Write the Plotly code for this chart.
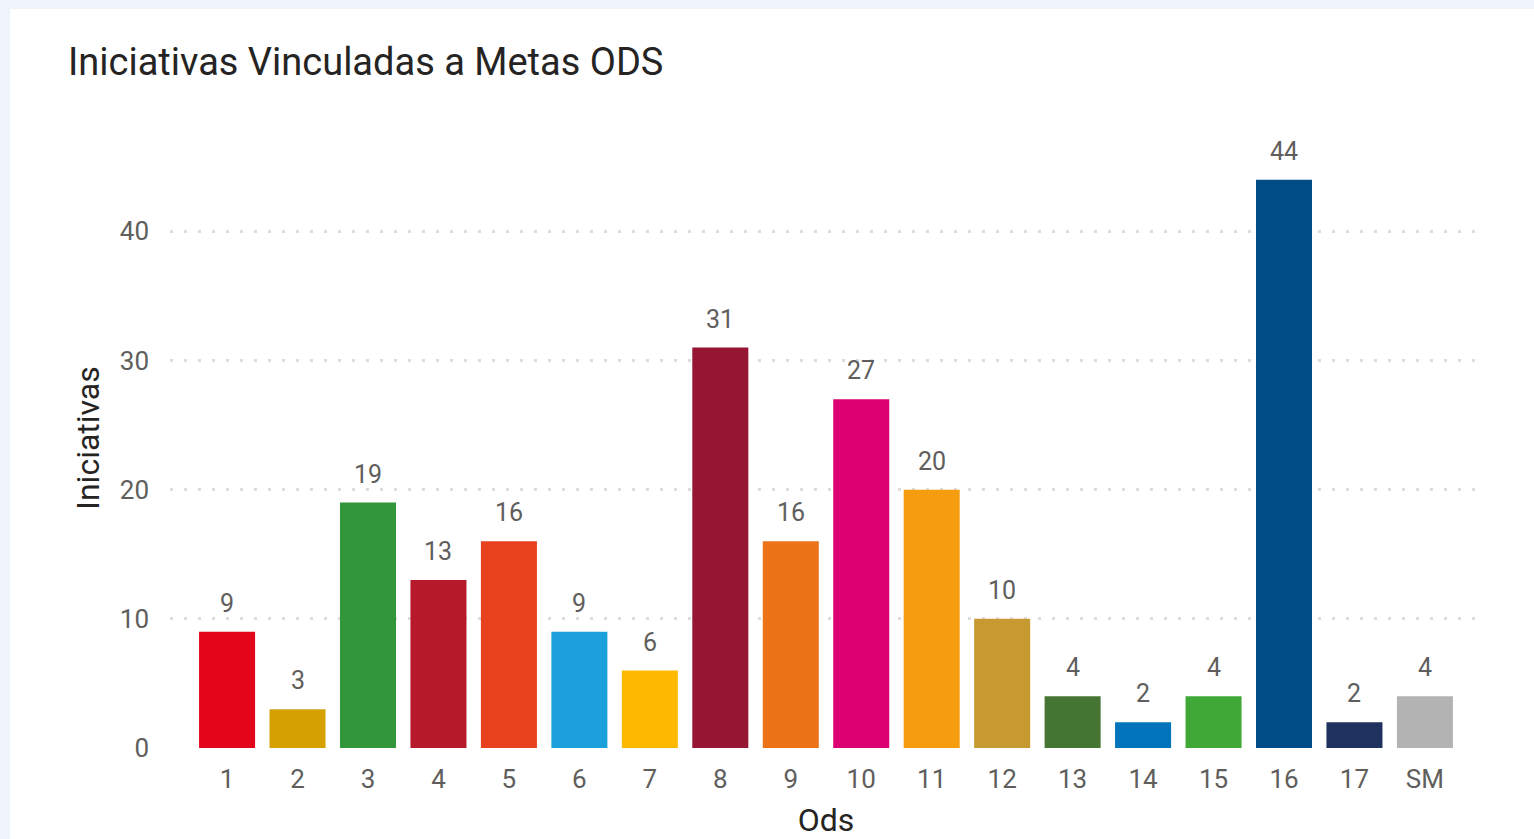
import plotly.graph_objects as go

categories = ["1", "2", "3", "4", "5", "6", "7", "8", "9", "10", "11", "12", "13", "14", "15", "16", "17", "SM"]
values = [9, 3, 19, 13, 16, 9, 6, 31, 16, 27, 20, 10, 4, 2, 4, 44, 2, 4]
colors = ["#E3061B", "#D4A100", "#32963A", "#B5192A", "#E7411E", "#1BA0DB", "#FDB900",
          "#951532", "#EC7318", "#DC0073", "#F59C0F", "#C69A30", "#457532", "#0174BB",
          "#3FA836", "#004C86", "#1E315F", "#B3B3B3"]
y_ticks = [0, 10, 20, 30, 40]

# page body has an 8px margin; figure is sized to fill the rest of the window
W, H = 1526, 831
L, R, T, B = 162, 52, 120, 91
FONT = "Roboto"
BG = "#EFF4FB"

fig = go.Figure()
fig.add_trace(go.Bar(
    x=categories, y=values, marker=dict(color=colors, line=dict(width=0)),
    hoverinfo="x+y", showlegend=False,
))

for i, v in enumerate(values):
    fig.add_annotation(x=i, y=v, text=str(v), showarrow=False, yanchor="bottom",
                       yshift=12, font=dict(family=FONT, size=25, color="#605E5C"))

pw = W - L - R
ph = H - T - B
fig.add_shape(type="rect", xref="paper", yref="paper", layer="below",
              x0=(2 - L) / pw, x1=(W + 20 - L) / pw,
              y0=-(B + 5) / ph, y1=1 + (T - 1) / ph,
              fillcolor="white", line=dict(width=0))

fig.update_layout(
    width=W, height=H,
    margin=dict(l=L, r=R, t=T, b=B, autoexpand=False),
    paper_bgcolor=BG, plot_bgcolor="rgba(0,0,0,0)",
    bargap=0.205,
    font=dict(family=FONT, color="#605E5C"),
    title=dict(text="Iniciativas Vinculadas a Metas ODS", x=60 / W, xanchor="left",
               xref="container", yref="container", y=1 - 54 / H, yanchor="middle",
               font=dict(family=FONT, size=38, color="#252423")),
    xaxis=dict(range=[-0.81, 17.81], showgrid=False, zeroline=False, showline=False,
               ticks="", tickfont=dict(size=26, color="#605E5C"), ticklabelstandoff=13,
               title=dict(text="Ods", font=dict(size=32, color="#252423"), standoff=19)),
    yaxis=dict(range=[0, 48], tickvals=y_ticks, showgrid=True, gridcolor="#DDDDDD",
               griddash="3px,11px", gridwidth=3, zeroline=False, showline=False,
               ticks="", tickfont=dict(size=26, color="#605E5C"), ticklabelstandoff=20,
               title=dict(text="Iniciativas", font=dict(size=32, color="#252423"), standoff=10)),
)

page_css = (
    "document.body.style.overflow='hidden';"
    "document.body.style.background='linear-gradient(to bottom, " + BG + " 9px, rgba(0,0,0,0) 9px), "
    "linear-gradient(to right, " + BG + " 10px, #ffffff 10px)';"
)
fig.write_html("out.html", post_script=page_css)
